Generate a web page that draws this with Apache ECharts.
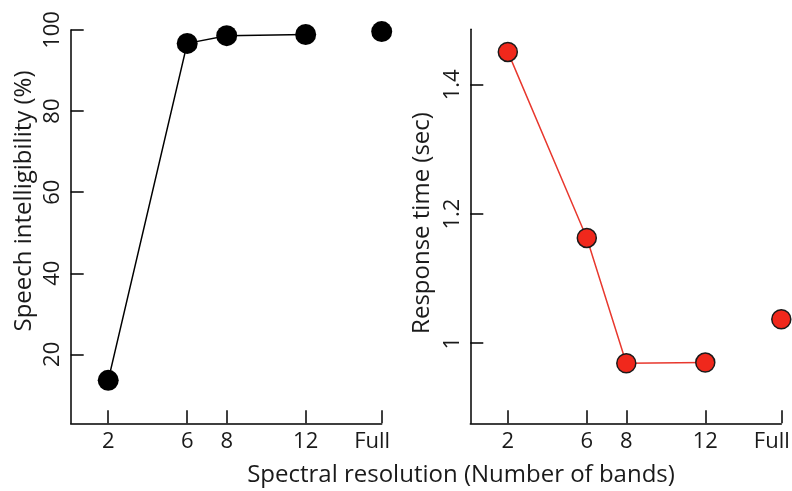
<!DOCTYPE html>
<html>
<head>
<meta charset="utf-8">
<script src="https://cdn.jsdelivr.net/npm/echarts@6/dist/echarts.min.js"></script>
<style>
  html, body { margin: 0; padding: 0; background: #fff; }
  #main { width: 792px; height: 491px; }
</style>
</head>
<body>
<div id="main"></div>
<script>
// band counts; "Full" is drawn at the right end of the axis
const bandLabels = ['2', '6', '8', '12', 'Full'];
const bandPos = [2, 6, 8, 12, 15.85];
// speech intelligibility (%)
const intelligibility = [13.6, 96.7, 98.6, 98.9, 99.6];
// response time (sec)
const responseTime = [1.451, 1.163, 0.969, 0.970, 1.037];
const yTicksLeft = [20, 40, 60, 80, 100];
const yTicksRight = [1, 1.2, 1.4];

const FONT = 'Open Sans';
const TXT = '#1a1a1a';

const chart = echarts.init(document.getElementById('main'), null, { renderer: 'canvas' });

function xAxis(grid) {
  return {
    type: 'value',
    gridIndex: grid,
    min: 0.1,
    max: 15.85,
    axisLine: { lineStyle: { color: '#000', width: 1.5 } },
    axisTick: { inside: true, length: 13, lineStyle: { color: '#000', width: 1.5 }, customValues: bandPos },
    axisLabel: {
      customValues: bandPos,
      margin: 7,
      color: TXT, fontFamily: FONT, fontSize: 22,
      formatter: v => {
        const s = bandLabels[bandPos.indexOf(v)];
        return s === 'Full' ? '{f|' + s + '}' : s;
      },
      rich: {
        // the "Full" label sits a little left of its tick in the original
        f: { color: TXT, fontFamily: FONT, fontSize: 22, padding: [0, 19, 0, 0] }
      }
    },
    splitLine: { show: false }
  };
}

function yAxis(grid, min, max, ticks) {
  return {
    type: 'value',
    gridIndex: grid,
    min: min,
    max: max,
    axisLine: { show: true, lineStyle: { color: '#000', width: 1.5 } },
    axisTick: { show: true, inside: true, length: 13, lineStyle: { color: '#000', width: 1.5 }, customValues: ticks },
    axisLabel: {
      customValues: ticks,
      rotate: 90,
      margin: 7,
      color: TXT, fontFamily: FONT, fontSize: 22
    },
    splitLine: { show: false }
  };
}

function label(text, x, y, rot) {
  return {
    type: 'text',
    x: x, y: y,
    rotation: rot,
    style: {
      text: text,
      align: 'center', verticalAlign: 'middle',
      fill: TXT, fontFamily: FONT, fontSize: 24
    }
  };
}

chart.setOption({
  animation: false,
  backgroundColor: '#fff',
  grid: [
    { left: 70.7, top: 30, width: 311, height: 393.3, outerBoundsMode: 'none', containLabel: false },
    { left: 470.3, top: 29.3, width: 311, height: 394, outerBoundsMode: 'none', containLabel: false }
  ],
  xAxis: [xAxis(0), xAxis(1)],
  yAxis: [
    yAxis(0, 3, 100, yTicksLeft),
    yAxis(1, 0.876, 1.486, yTicksRight)
  ],
  graphic: [
    label('Speech intelligibility (%)', 24, 201, Math.PI / 2),
    label('Response time (sec)', 422, 223, Math.PI / 2),
    label('Spectral resolution (Number of bands)', 461, 475, 0)
  ],
  series: [
    {
      type: 'line',
      xAxisIndex: 0, yAxisIndex: 0,
      data: bandPos.slice(0, 4).map((x, i) => [x, intelligibility[i]]),
      symbol: 'circle', symbolSize: 21,
      lineStyle: { color: '#000', width: 1.5 },
      itemStyle: { color: '#000' }
    },
    {
      type: 'scatter',
      xAxisIndex: 0, yAxisIndex: 0,
      data: [[bandPos[4], intelligibility[4]]],
      symbolSize: 21,
      itemStyle: { color: '#000', opacity: 1 }
    },
    {
      type: 'line',
      xAxisIndex: 1, yAxisIndex: 1,
      data: bandPos.slice(0, 4).map((x, i) => [x, responseTime[i]]),
      symbol: 'circle', symbolSize: 19,
      lineStyle: { color: '#e8382e', width: 1.5 },
      itemStyle: { color: '#f0281c', borderColor: '#1a1a1a', borderWidth: 1.5 }
    },
    {
      type: 'scatter',
      xAxisIndex: 1, yAxisIndex: 1,
      data: [[bandPos[4], responseTime[4]]],
      symbolSize: 19,
      itemStyle: { color: '#f0281c', borderColor: '#1a1a1a', borderWidth: 1.5, opacity: 1 }
    }
  ]
});
</script>
</body>
</html>
